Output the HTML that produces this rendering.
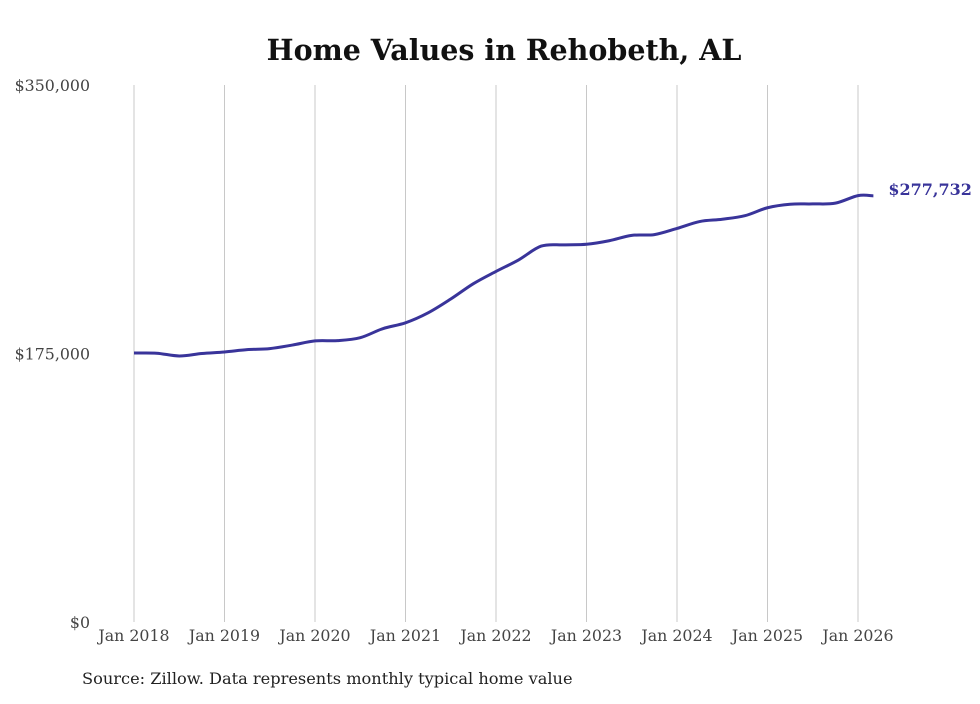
<!DOCTYPE html>
<html><head><meta charset="utf-8"><style>
body{margin:0;background:#fff;}
svg text{font-family:"DejaVu Serif","Liberation Serif",serif;}
</style></head><body>
<svg id="chart" width="980" height="699" xmlns="http://www.w3.org/2000/svg">
<text x="504" y="60" text-anchor="middle" font-size="28.5" font-weight="bold" fill="#111">Home Values in Rehobeth, AL</text>
<g id="grid"></g><g id="yt"></g><g id="xt"></g>
<path id="line" fill="none" stroke="#39349a" stroke-width="3"/>
<text id="endlabel" font-size="16" font-weight="bold" fill="#39349a"></text>
<text x="82" y="684" font-size="16.2" fill="#222">Source: Zillow. Data represents monthly typical home value</text>
</svg>
<script>
const dates=[2018.0,2018.25,2018.5,2018.75,2019.0,2019.25,2019.5,2019.75,2020.0,2020.25,2020.5,2020.75,2021.0,2021.25,2021.5,2021.75,2022.0,2022.25,2022.5,2022.75,2023.0,2023.25,2023.5,2023.75,2024.0,2024.25,2024.5,2024.75,2025.0,2025.25,2025.5,2025.75,2026.0,2026.17];
const values=[175300,175200,173400,175000,176000,177500,178200,180500,183200,183400,185300,191200,195000,201500,210500,220500,228500,236000,245000,245800,246200,248500,252000,252500,256500,261000,262500,264800,270000,272300,272500,273000,277900,277732];
const yTicks=[0,175000,350000];
const yTickLabels=["$0","$175,000","$350,000"];
const xTicks=[2018,2019,2020,2021,2022,2023,2024,2025,2026];
const xTickLabels=["Jan 2018","Jan 2019","Jan 2020","Jan 2021","Jan 2022","Jan 2023","Jan 2024","Jan 2025","Jan 2026"];
const endLabel="$277,732";
const X=d=>134+(d-2018)*90.5;
const Y=v=>622-v*(537/350000);
const NS="http://www.w3.org/2000/svg";
function mk(t,a,p){const e=document.createElementNS(NS,t);for(const k in a)e.setAttribute(k,a[k]);p.appendChild(e);return e;}
const grid=document.getElementById('grid'),yt=document.getElementById('yt'),xt=document.getElementById('xt');
xTicks.forEach((d,i)=>{
 const l=mk('line',{x1:X(d),x2:X(d),y1:85,y2:622,stroke:'#c8c8c8','stroke-width':1},grid);
 
 
 const t=mk('text',{x:X(d),y:641,'text-anchor':'middle','font-size':15.8,fill:'#444'},xt);
 t.textContent=xTickLabels[i];
 
 
});
yTicks.forEach((v,i)=>{
 const t=mk('text',{x:90,y:Y(v)+6,'text-anchor':'end','font-size':15.8,fill:'#444'},yt);
 t.textContent=yTickLabels[i];
 
 
});
const pts=dates.map((d,i)=>[X(d),Y(values[i])]);
let p='M'+pts[0][0]+','+pts[0][1];
for(let i=0;i<pts.length-1;i++){
 const p0=pts[Math.max(0,i-1)],p1=pts[i],p2=pts[i+1],p3=pts[Math.min(pts.length-1,i+2)];
 const c1=[p1[0]+(p2[0]-p0[0])/6,p1[1]+(p2[1]-p0[1])/6],c2=[p2[0]-(p3[0]-p1[0])/6,p2[1]-(p3[1]-p1[1])/6];
 p+=' C'+c1+' '+c2+' '+p2;
}
document.getElementById('line').setAttribute('d',p);
const el=document.getElementById('endlabel');
const last=pts[pts.length-1];
el.setAttribute('x',last[0]+15);el.setAttribute('y',last[1]-1);
el.textContent=endLabel;
</script>
</body></html>
